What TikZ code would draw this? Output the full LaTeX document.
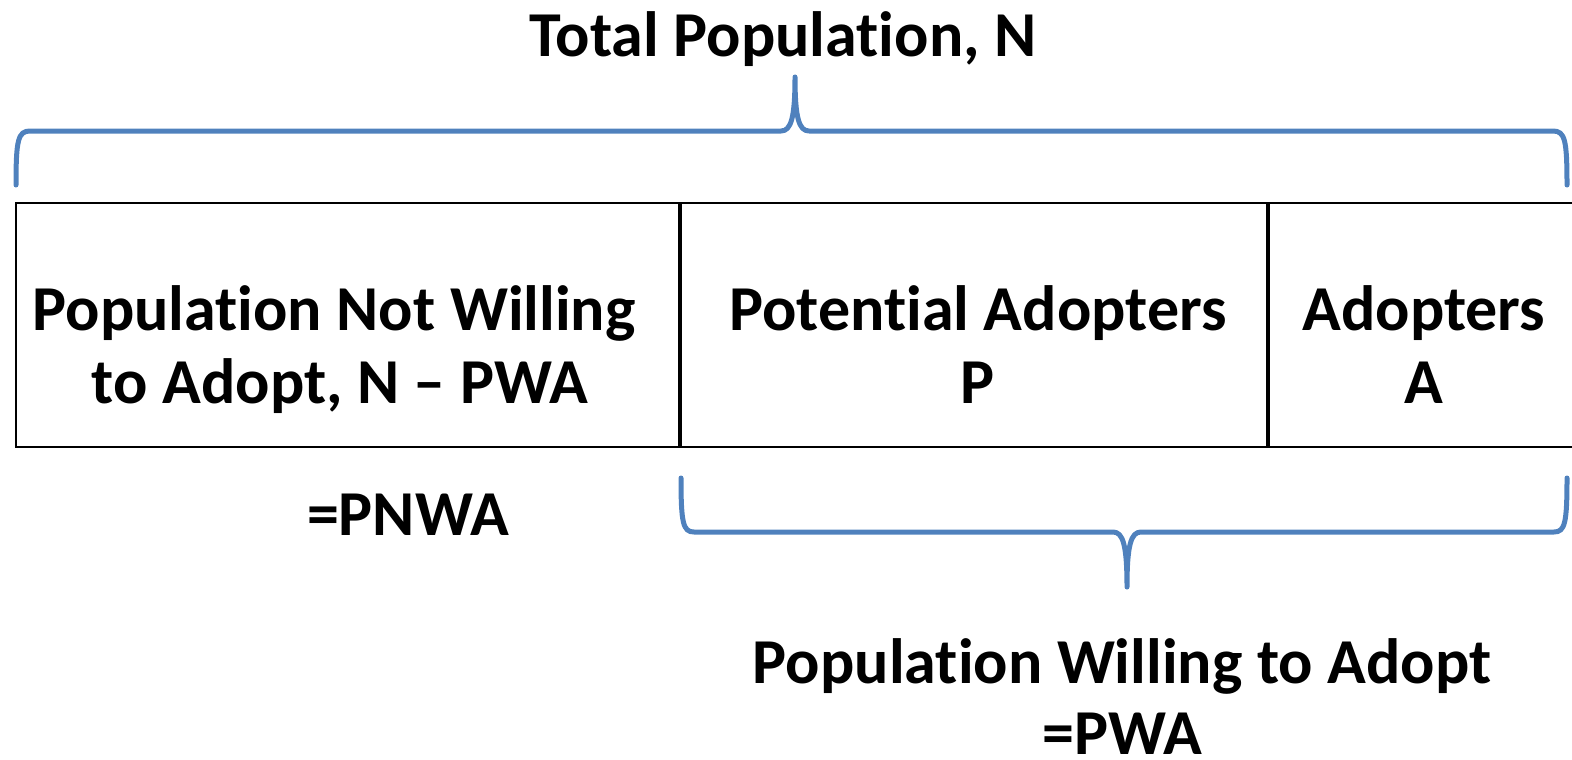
\documentclass[tikz,border=0pt]{standalone}
\usepackage{fontspec}
\setmainfont{Carlito}[Ligatures=NoCommon]
\definecolor{braceblue}{HTML}{4F81BD}
\begin{document}
\begin{tikzpicture}[x=1pt,y=-1pt,
  lbl/.style={font=\fontsize{64}{77}\selectfont\bfseries, inner sep=0pt, anchor=base},
  brace/.style={draw=braceblue, line width=5pt, line cap=round, line join=round},
  frame/.style={draw=black, line width=2pt},
  divider/.style={draw=black, line width=4pt}]
\useasboundingbox (0,0) rectangle (1572,760);
\clip (0,0) rectangle (1572,760);

% the population bar and its three segments
\coordinate (boxtl) at (16,203);
\coordinate (boxbr) at (1578,447);
\draw[frame] (boxtl) rectangle (boxbr);
\coordinate (d1t) at (680,203);
\coordinate (d1b) at (680,447);
\coordinate (d2t) at (1268,203);
\coordinate (d2b) at (1268,447);
\draw[divider] (d1t) -- (d1b);
\draw[divider] (d2t) -- (d2b);

% brace over the whole bar
\coordinate (tbL) at (16,185);
\coordinate (tbTip) at (795,77);
\coordinate (tbR) at (1567,185);
\draw[brace] (tbL) .. controls (16,140) and (18,131) .. (30,131)
  -- (781,131) .. controls (791,131) and (795,118) .. (tbTip)
  .. controls (795,118) and (799,131) .. (809,131)
  -- (1553,131) .. controls (1565,131) and (1567,140) .. (tbR);

% brace under the willing part
\coordinate (bbL) at (681,478);
\coordinate (bbTip) at (1127,587);
\coordinate (bbR) at (1567,478);
\draw[brace] (bbL) .. controls (681,523) and (683,532) .. (694,532)
  -- (1113,532) .. controls (1123,532) and (1127,545) .. (bbTip)
  .. controls (1127,545) and (1131,532) .. (1141,532)
  -- (1554,532) .. controls (1565,532) and (1567,523) .. (bbR);

% labels
\node[lbl] (total) at (783,57) {Total Population, N};
\node[lbl] (nw1) at (334,330) {Population Not Willing};
\node[lbl] (nw2) at (340,403) {to Adopt, N – PWA};
\node[lbl] (pa1) at (978,330) {Potential Adopters};
\node[lbl] (pa2) at (978,403) {P};
\node[lbl] (ad1) at (1424,330) {Adopters};
\node[lbl] (ad2) at (1424,403) {A};
\node[lbl] (pnwa) at (408,535) {=PNWA};
\node[lbl] (pw1) at (1122,683) {Population Willing to Adopt};
\node[lbl, text depth=0pt] (pw2) at (1122,754) {=PWA};
\end{tikzpicture}
\end{document}
